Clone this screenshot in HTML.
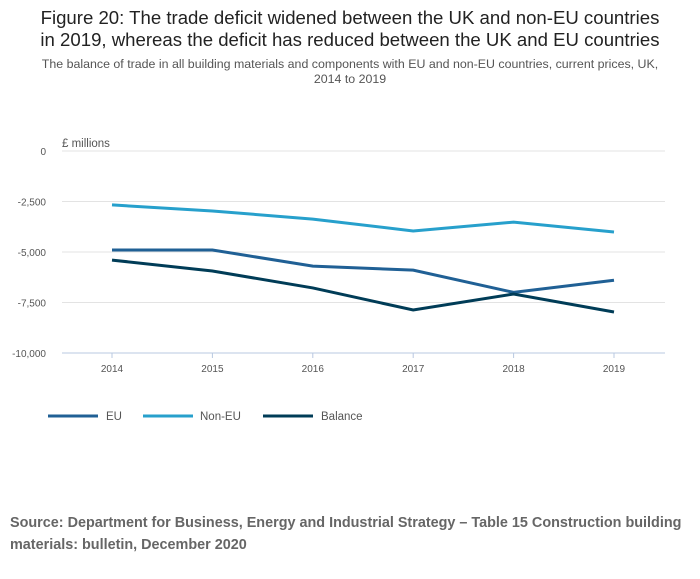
<!DOCTYPE html>
<html><head><meta charset="utf-8"><style>
body{margin:0;background:#fff;width:700px;height:574px;overflow:hidden;font-family:"Liberation Sans",sans-serif;}
</style></head><body>
<svg width="700" height="574" font-family="Liberation Sans, sans-serif">
<text x="350" y="24" text-anchor="middle" font-size="18.6" fill="#222">Figure 20: The trade deficit widened between the UK and non-EU countries</text>
<text x="350" y="46" text-anchor="middle" font-size="18.6" fill="#222">in 2019, whereas the deficit has reduced between the UK and EU countries</text>
<text x="350" y="68" text-anchor="middle" font-size="12.4" fill="#555">The balance of trade in all building materials and components with EU and non-EU countries, current prices, UK,</text>
<text x="350" y="83" text-anchor="middle" font-size="12.4" fill="#555">2014 to 2019</text>
<text x="62" y="147" font-size="11.5" fill="#555">£ millions</text>
<g id="grid"></g><g id="lines"></g>
<g>
<line x1="48" y1="416" x2="98" y2="416" stroke="#206095" stroke-width="3"/>
<text x="106" y="420" font-size="11.5" fill="#555">EU</text>
<line x1="143" y1="416" x2="193" y2="416" stroke="#27a0cc" stroke-width="3"/>
<text x="200" y="420" font-size="11.5" fill="#555">Non-EU</text>
<line x1="263" y1="416" x2="313" y2="416" stroke="#003c57" stroke-width="3"/>
<text x="321" y="420" font-size="11.5" fill="#555">Balance</text>
</g>
<text x="10" y="527" font-size="14.4" font-weight="bold" fill="#666">Source:  Department for Business, Energy and Industrial Strategy – Table 15 Construction building</text>
<text x="10" y="549" font-size="14.4" font-weight="bold" fill="#666">materials: bulletin, December 2020</text>
</svg>
<script>
const years=["2014","2015","2016","2017","2018","2019"];
const eu=[-4900,-4900,-5700,-5900,-7000,-6400];
const nonEu=[-2670,-2970,-3370,-3960,-3520,-4010];
const balance=[-5400,-5940,-6780,-7870,-7080,-7970];
const yTicks=[0,-2500,-5000,-7500,-10000];
const yTickLabels=["0","-2,500","-5,000","-7,500","-10,000"];
const NS="http://www.w3.org/2000/svg";
const X0=62,X1=665,Y0=151,Y1=353;
function x(i){return 112+i*(614-112)/(years.length-1);}
function y(v){return Y0+(0-v)/10000*(Y1-Y0);}
const grid=document.getElementById('grid');
yTicks.forEach((t,i)=>{
 const l=document.createElementNS(NS,'line');
 l.setAttribute('x1',X0);l.setAttribute('x2',X1);l.setAttribute('y1',y(t));l.setAttribute('y2',y(t));
 l.setAttribute('stroke',i==yTicks.length-1?'#b8c8e0':'#e3e3e3');l.setAttribute('stroke-width','1');
 
 
 grid.appendChild(l);
 const tx=document.createElementNS(NS,'text');
 tx.setAttribute('x',46);tx.setAttribute('y',y(t)+4);tx.setAttribute('text-anchor','end');
 tx.setAttribute('font-size','10');tx.setAttribute('fill','#555');tx.textContent=yTickLabels[i];
 
 
 grid.appendChild(tx);
});
years.forEach((yr,i)=>{
 const l=document.createElementNS(NS,'line');
 l.setAttribute('x1',x(i));l.setAttribute('x2',x(i));l.setAttribute('y1',Y1);l.setAttribute('y2',Y1+5);
 l.setAttribute('stroke','#b8c8e0');
 
 
 grid.appendChild(l);
 const tx=document.createElementNS(NS,'text');
 tx.setAttribute('x',x(i));tx.setAttribute('y',372);tx.setAttribute('text-anchor','middle');
 tx.setAttribute('font-size','10');tx.setAttribute('fill','#555');tx.textContent=yr;
 
 
 grid.appendChild(tx);
});
const lines=document.getElementById('lines');
[[nonEu,'#27a0cc','non-eu-line'],[eu,'#206095','eu-line'],[balance,'#003c57','balance-line']].forEach(([d,c,n])=>{
 const p=document.createElementNS(NS,'polyline');
 p.setAttribute('points',d.map((v,i)=>x(i)+','+y(v)).join(' '));
 p.setAttribute('fill','none');p.setAttribute('stroke',c);p.setAttribute('stroke-width','3');
 
 
 lines.appendChild(p);
});
</script>
</body></html>
